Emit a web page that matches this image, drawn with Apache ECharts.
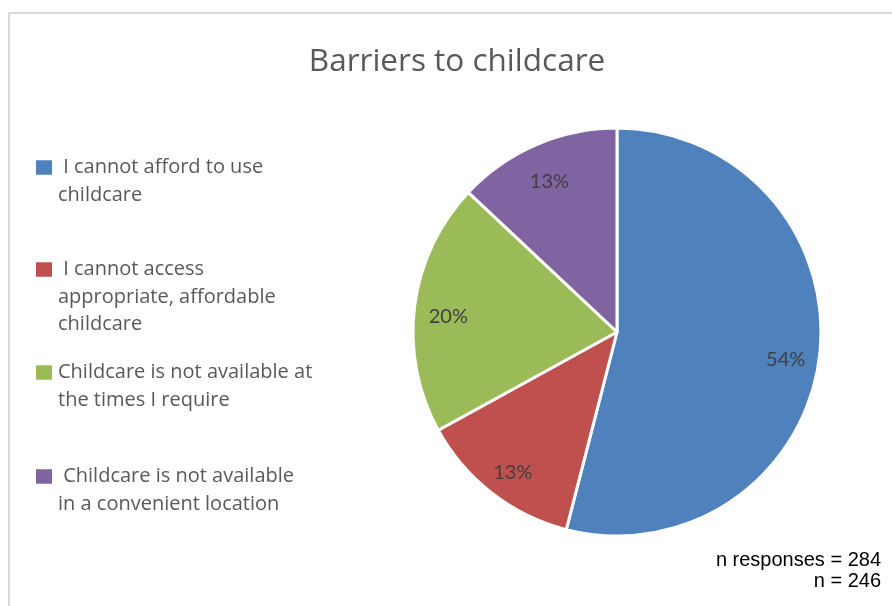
<!DOCTYPE html>
<html>
<head>
<meta charset="utf-8">
<script src="https://cdn.jsdelivr.net/npm/echarts@6/dist/echarts.min.js"></script>
<style>
  html, body { margin: 0; padding: 0; background: #ffffff; }
  #chart { width: 892px; height: 606px; }
</style>
</head>
<body>
<div id="chart"></div>
<script>
// Survey answers: reasons given for not using childcare
const categories = [
  ' I cannot afford to use childcare',
  ' I cannot access appropriate, affordable childcare',
  'Childcare is not available at the times I require',
  ' Childcare is not available in a convenient location'
];
// Legend wording split across lines
const legendLines = [
  [' I cannot afford to use', 'childcare'],
  [' I cannot access', 'appropriate, affordable', 'childcare'],
  ['Childcare is not available at', 'the times I require'],
  [' Childcare is not available', 'in a convenient location']
];
// Share of responses (%)
const shares = [54, 13, 20, 13];
const colors = ['#4F81BD', '#C0504D', '#9BBB59', '#8064A2'];
const footnotes = ['n responses = 284', 'n = 246'];

const TEXT_FONT = 'Open Sans';
const LABEL_FONT = 'Lato';
const LINE_H = 27.5;
const rowCenters = [167.5, 269.5, 372.5, 476.5];

const pieData = categories.map((name, i) => ({
  name: name,
  value: shares[i],
  itemStyle: { color: colors[i] }
}));

// one legend block per answer so each can sit at its own height;
// blank lines above the text keep the first line level with the swatch
const legends = categories.map((name, i) => {
  const n = legendLines[i].length;
  return {
    data: [name],
    orient: 'vertical',
    left: 34,
    top: rowCenters[i] - (2 * n - 1) * LINE_H / 2,
    padding: 0,
    itemWidth: 18,
    itemHeight: 16.5,
    icon: 'rect',
    selectedMode: false,
    formatter: () => '\n'.repeat(n - 1) + legendLines[i].join('\n'),
    textStyle: {
      fontFamily: TEXT_FONT,
      fontSize: 20,
      color: '#595959',
      lineHeight: LINE_H
    }
  };
});

const chart = echarts.init(document.getElementById('chart'), null, { renderer: 'canvas' });
chart.setOption({
  backgroundColor: '#ffffff',
  animation: false,
  title: {
    text: 'Barriers to childcare',
    left: 452,
    top: 41,
    textAlign: 'center',
    textStyle: { fontFamily: TEXT_FONT, fontSize: 31.5, fontWeight: 'normal', color: '#595959' }
  },
  legend: legends,
  graphic: [
    {
      type: 'rect',
      shape: { x: 9, y: 13, width: 1200, height: 1200 },
      style: { fill: 'none', stroke: '#d9d9d9', lineWidth: 2 },
      silent: true
    },
    {
      type: 'text',
      right: 11,
      top: 550,
      style: {
        text: footnotes[0],
        fontFamily: 'Liberation Sans',
        fontSize: 20,
        fill: '#000000'
      }
    },
    {
      type: 'text',
      right: 11,
      top: 571,
      style: {
        text: footnotes[1],
        fontFamily: 'Liberation Sans',
        fontSize: 20,
        fill: '#000000'
      }
    }
  ],
  series: [
    {
      type: 'pie',
      center: [617, 332],
      radius: 204,
      startAngle: 90,
      clockwise: true,
      silent: true,
      label: { show: false },
      labelLine: { show: false },
      itemStyle: { borderColor: '#ffffff', borderWidth: 3 },
      data: pieData
    },
    {
      // transparent ring carrying the percentage labels further out in each slice
      type: 'pie',
      center: [617, 332],
      radius: [130, 204],
      startAngle: 90,
      clockwise: true,
      silent: true,
      z: 3,
      itemStyle: { color: 'rgba(0,0,0,0)', borderWidth: 0 },
      label: {
        show: true,
        position: 'inside',
        formatter: p => p.value + '%',
        fontFamily: LABEL_FONT,
        fontSize: 20,
        color: '#404040'
      },
      labelLayout: { dy: 6 },
      labelLine: { show: false },
      data: categories.map((name, i) => ({ name: name, value: shares[i] }))
    }
  ]
});
</script>
</body>
</html>
